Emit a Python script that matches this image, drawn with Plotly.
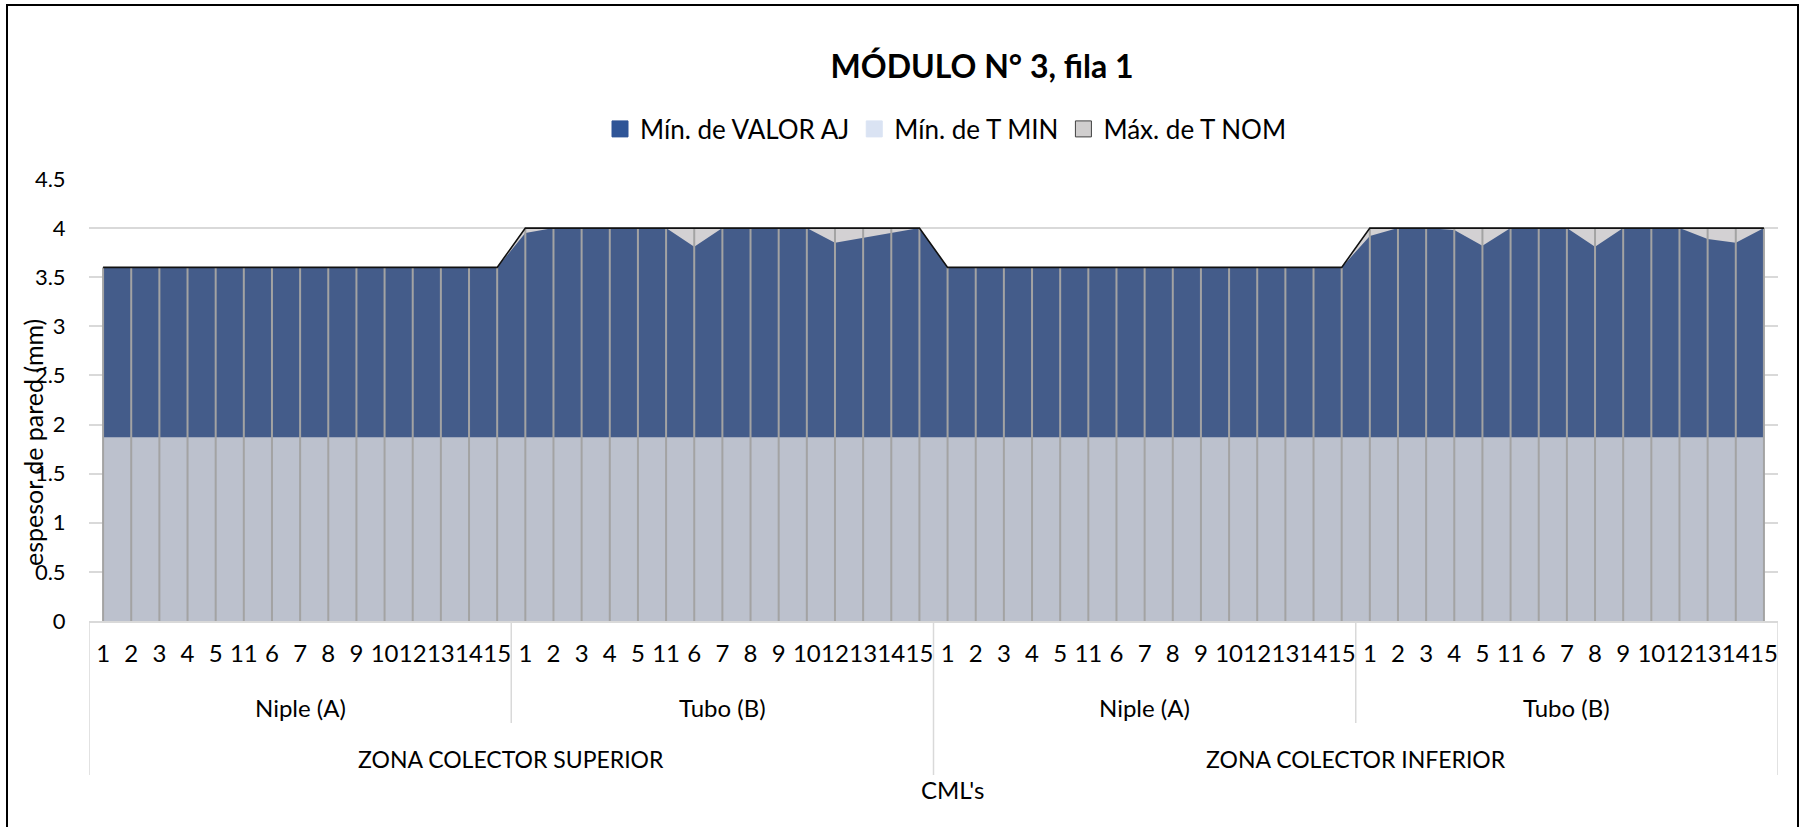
import plotly.graph_objects as go

# Canvas and plot-area geometry (pixels)
W, H = 1800, 827
ML, MR, MT, MB = 89, 22, 179, 206

FONT = "Lato, 'Open Sans', sans-serif"

# ---- data -------------------------------------------------------------
zones = ["ZONA COLECTOR SUPERIOR", "ZONA COLECTOR INFERIOR"]
parts = ["Niple (A)", "Tubo (B)"]
cml_labels = ["1", "2", "3", "4", "5", "11", "6", "7", "8", "9", "10", "12", "13", "14", "15"]

# Mín. de VALOR AJ (mm), one list per zone / part
valor_niple_sup = [3.6, 3.6, 3.6, 3.6, 3.6, 3.6, 3.6, 3.6, 3.6, 3.6, 3.6, 3.6, 3.6, 3.6, 3.6]
valor_tubo_sup = [3.95, 4.0, 4.0, 4.0, 4.0, 4.0, 3.81, 4.0, 4.0, 4.0, 4.0, 3.85, 3.9, 3.95, 4.0]
valor_niple_inf = [3.6, 3.6, 3.6, 3.6, 3.6, 3.6, 3.6, 3.6, 3.6, 3.6, 3.6, 3.6, 3.6, 3.6, 3.6]
valor_tubo_inf = [3.92, 4.0, 4.0, 3.98, 3.82, 4.0, 4.0, 4.0, 3.81, 4.0, 4.0, 4.0, 3.89, 3.85, 4.0]

# Mín. de T MIN (mm)
tmin_niple_sup = [1.87, 1.87, 1.87, 1.87, 1.87, 1.87, 1.87, 1.87, 1.87, 1.87, 1.87, 1.87, 1.87, 1.87, 1.87]
tmin_tubo_sup = [1.87, 1.87, 1.87, 1.87, 1.87, 1.87, 1.87, 1.87, 1.87, 1.87, 1.87, 1.87, 1.87, 1.87, 1.87]
tmin_niple_inf = [1.87, 1.87, 1.87, 1.87, 1.87, 1.87, 1.87, 1.87, 1.87, 1.87, 1.87, 1.87, 1.87, 1.87, 1.87]
tmin_tubo_inf = [1.87, 1.87, 1.87, 1.87, 1.87, 1.87, 1.87, 1.87, 1.87, 1.87, 1.87, 1.87, 1.87, 1.87, 1.87]

# Máx. de T NOM (mm)
tnom_niple_sup = [3.6, 3.6, 3.6, 3.6, 3.6, 3.6, 3.6, 3.6, 3.6, 3.6, 3.6, 3.6, 3.6, 3.6, 3.6]
tnom_tubo_sup = [4.0, 4.0, 4.0, 4.0, 4.0, 4.0, 4.0, 4.0, 4.0, 4.0, 4.0, 4.0, 4.0, 4.0, 4.0]
tnom_niple_inf = [3.6, 3.6, 3.6, 3.6, 3.6, 3.6, 3.6, 3.6, 3.6, 3.6, 3.6, 3.6, 3.6, 3.6, 3.6]
tnom_tubo_inf = [4.0, 4.0, 4.0, 4.0, 4.0, 4.0, 4.0, 4.0, 4.0, 4.0, 4.0, 4.0, 4.0, 4.0, 4.0]

y_ticks = [0, 0.5, 1, 1.5, 2, 2.5, 3, 3.5, 4, 4.5]

# ---- assemble series -------------------------------------------------
valor_aj = valor_niple_sup + valor_tubo_sup + valor_niple_inf + valor_tubo_inf
t_min = tmin_niple_sup + tmin_tubo_sup + tmin_niple_inf + tmin_tubo_inf
t_nom = tnom_niple_sup + tnom_tubo_sup + tnom_niple_inf + tnom_tubo_inf
n_group = len(cml_labels)
tick_text = cml_labels * (len(zones) * len(parts))
x = list(range(len(tick_text)))

C_VALOR = "#445C8A"
C_TMIN = "#BCC1CD"
C_TNOM = "#D3D1D3"


def px_x(px):
    return (px - ML) / (W - ML - MR)


def px_y(py):
    return (H - MB - py) / (H - MT - MB)


fig = go.Figure()

# Overlapping areas: T NOM at the back, VALOR AJ, then T MIN in front
fig.add_trace(go.Scatter(x=x, y=t_nom, mode="lines", fill="tozeroy",
                         fillcolor=C_TNOM, line=dict(width=0, color=C_TNOM),
                         showlegend=False, hoverinfo="skip"))
fig.add_trace(go.Scatter(x=x, y=valor_aj, mode="lines", fill="tozeroy",
                         fillcolor=C_VALOR, line=dict(width=0, color=C_VALOR),
                         showlegend=False, name="Mín. de VALOR AJ"))
fig.add_trace(go.Scatter(x=x, y=t_min, mode="lines", fill="tozeroy",
                         fillcolor=C_TMIN, line=dict(width=0, color=C_TMIN),
                         showlegend=False, name="Mín. de T MIN"))

# Drop lines from the axis to the top of each category
drop_x, drop_y = [], []
for xi, top in zip(x, t_nom):
    drop_x += [xi, xi, None]
    drop_y += [0, top, None]
fig.add_trace(go.Scatter(x=drop_x, y=drop_y, mode="lines",
                         line=dict(color="#A3A3A3", width=2),
                         showlegend=False, hoverinfo="skip"))

# Outline along the top of T NOM
fig.add_trace(go.Scatter(x=x, y=t_nom, mode="lines",
                         line=dict(color="#111111", width=1.6),
                         showlegend=False, name="Máx. de T NOM"))

# Legend entries (square swatches)
legend_items = [
    ("Mín. de VALOR AJ", "#2F5597", "#2F5597"),
    ("Mín. de T MIN", "#DAE3F3", "#DAE3F3"),
    ("Máx. de T NOM", "#D0CECE", "#404040"),
]
for name, fc, lc in legend_items:
    fig.add_trace(go.Scatter(x=[None], y=[None], mode="markers", name=name,
                             marker=dict(symbol="square", size=16, color=fc,
                                         line=dict(color=lc, width=1))))

# Category hierarchy below the axis
annotations = []
for zi, zone in enumerate(zones):
    zone_start = zi * len(parts) * n_group
    annotations.append(dict(x=zone_start + (len(parts) * n_group - 1) / 2, xref="x",
                            y=px_y(759), yref="paper", text=zone, showarrow=False,
                            xanchor="center", yanchor="middle",
                            font=dict(size=23, color="#000000")))
    for pi, part in enumerate(parts):
        start = zone_start + pi * n_group
        annotations.append(dict(x=start + (n_group - 1) / 2, xref="x",
                                y=px_y(707), yref="paper", text=part, showarrow=False,
                                xanchor="center", yanchor="middle",
                                font=dict(size=24, color="#000000")))

annotations.append(dict(x=px_x(952), xref="paper", y=px_y(789), yref="paper",
                        text="CML's", showarrow=False, xanchor="center", yanchor="middle",
                        font=dict(size=24, color="#000000")))
annotations.append(dict(x=px_x(33), xref="paper", y=px_y(443), yref="paper",
                        text="espesor de pared (mm)", textangle=-90, showarrow=False,
                        xanchor="center", yanchor="middle",
                        font=dict(size=25, color="#000000")))

shapes = []
n_total = len(x)
for k in range(len(zones) * len(parts) + 1):
    bx = k * n_group - 0.5
    deep = (k % len(parts) == 0)
    shapes.append(dict(type="line", xref="x", yref="paper", x0=bx, x1=bx,
                       y0=0, y1=px_y(775 if deep else 723),
                       line=dict(color="#D9D9D9", width=1.5)))

# Chart border
shapes.append(dict(type="rect", xref="paper", yref="paper",
                   x0=px_x(7), x1=px_x(1798), y0=px_y(5), y1=px_y(832),
                   line=dict(color="#000000", width=2), fillcolor="rgba(0,0,0,0)"))

fig.update_layout(
    width=W, height=H,
    margin=dict(l=ML, r=MR, t=MT, b=MB),
    paper_bgcolor="white", plot_bgcolor="white",
    font=dict(family=FONT, color="#000000"),
    title=dict(text="<b>MÓDULO N° 3, fila 1</b>", x=982 / W, xanchor="center",
               y=1 - 67 / H, yanchor="middle", xref="container", yref="container",
               font=dict(size=32, family=FONT, color="#000000")),
    legend=dict(orientation="h", xref="container", yref="container",
                x=600 / W, xanchor="left", y=1 - 129 / H, yanchor="middle",
                font=dict(size=26, color="#000000"), bgcolor="rgba(0,0,0,0)",
                itemclick=False, itemdoubleclick=False),
    xaxis=dict(range=[-0.5, n_total - 0.5], tickmode="array", tickvals=x,
               ticktext=tick_text, tickangle=0, showgrid=False, zeroline=False,
               showline=True, linecolor="#D9D9D9", linewidth=1.5,
               ticks="outside", ticklen=10, tickcolor="rgba(0,0,0,0)",
               tickfont=dict(size=24, color="#000000")),
    yaxis=dict(range=[0, 4.5], tickmode="array", tickvals=y_ticks,
               ticktext=[f"{v:g}" for v in y_ticks],
               showgrid=True, gridcolor="#D9D9D9", gridwidth=1.5, zeroline=False,
               showline=False, ticks="outside", ticklen=18, tickcolor="rgba(0,0,0,0)",
               tickfont=dict(size=22, color="#000000")),
    annotations=annotations,
    shapes=shapes,
    hovermode=False,
)

fig.write_html("out.html")
